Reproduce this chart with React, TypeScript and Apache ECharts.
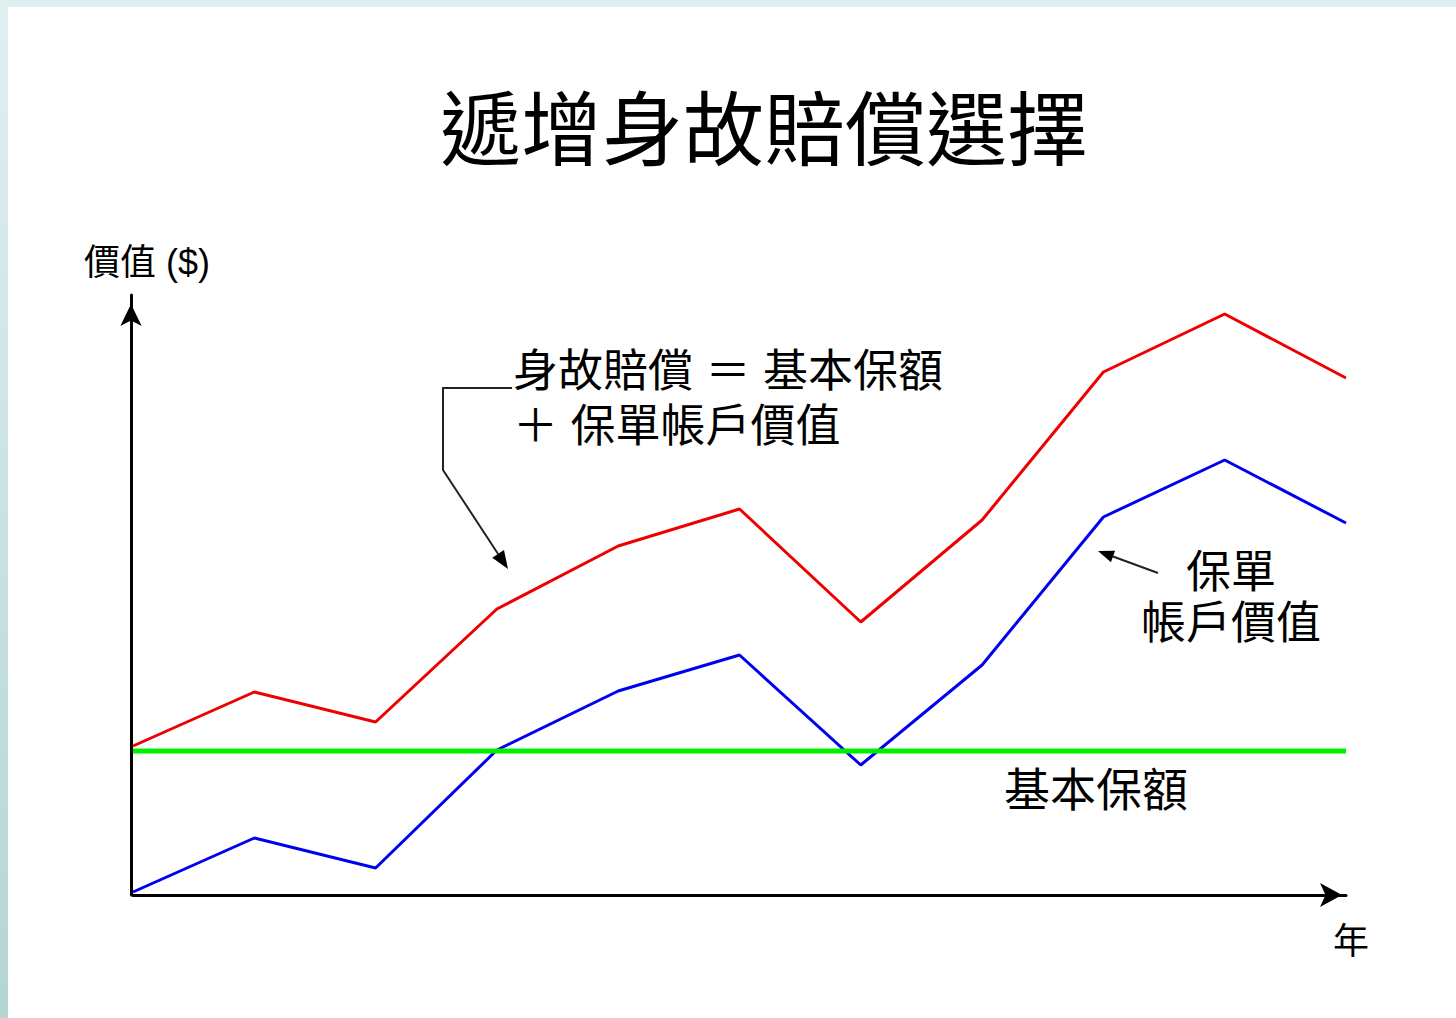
import React, { useEffect, useRef } from "react";
import * as echarts from "echarts";

const years = ["0", "1", "2", "3", "4", "5", "6", "7", "8", "9", "10"];
const deathBenefit = [149, 203, 173, 286, 349, 386, 273, 375, 523, 581, 517];
const accountValue = [3, 57, 27, 145, 204, 240, 130, 230, 378, 435, 372];
const baseAmount = [144, 144, 144, 144, 144, 144, 144, 144, 144, 144, 144];

const titleText = "遞增身故賠償選擇";
const yAxisName = "價值 ($)";
const xAxisName = "年";
const noteDeath = ["身故賠償 ＝ 基本保額", "＋ 保單帳戶價值"];
const noteAccount = ["保單", "帳戶價值"];
const noteBase = "基本保額";

const FONT = '"Noto Sans CJK TC", "Noto Sans CJK SC", sans-serif';
const NOTE_FONT = '"Liberation Sans", "Noto Sans CJK TC", "Noto Sans CJK SC", sans-serif';

function txt(text: string, x: number, y: number, size: number, align: string, family: string = NOTE_FONT) {
  return {
    type: "text",
    x,
    y,
    z: 100,
    style: {
      text,
      fill: "#000",
      font: `normal ${size}px ${family}`,
      textAlign: align,
      align,
      textVerticalAlign: "middle",
      verticalAlign: "middle",
    },
  };
}

export default function App() {
  const ref = useRef<HTMLDivElement>(null);

  useEffect(() => {
    document.body.style.margin = "0";
    if (!ref.current) return;
    const chart = echarts.init(ref.current, null, { renderer: "svg" });

    const tip1 = [508, 569];
    const from1 = [443, 470];
    const d1x = tip1[0] - from1[0];
    const d1y = tip1[1] - from1[1];
    const l1 = Math.hypot(d1x, d1y);
    const u1 = [d1x / l1, d1y / l1];
    const b1 = [tip1[0] - 18 * u1[0], tip1[1] - 18 * u1[1]];
    const p1 = [-u1[1] * 7, u1[0] * 7];

    const tip2 = [1098, 551];
    const from2 = [1158, 573];
    const d2x = tip2[0] - from2[0];
    const d2y = tip2[1] - from2[1];
    const l2 = Math.hypot(d2x, d2y);
    const u2 = [d2x / l2, d2y / l2];
    const b2 = [tip2[0] - 16 * u2[0], tip2[1] - 16 * u2[1]];
    const p2 = [-u2[1] * 6, u2[0] * 6];

    chart.setOption({
      animation: false,
      backgroundColor: "#ffffff",
      title: {
        text: titleText,
        left: 435,
        top: 78,
        textStyle: {
          fontSize: 81,
          fontWeight: "normal",
          color: "#000",
          fontFamily: FONT,
        },
      },
      grid: { left: 133, right: 110, top: 295, bottom: 123 },
      xAxis: {
        type: "category",
        data: years,
        boundaryGap: false,
        axisLabel: { show: false },
        axisTick: { show: false },
        splitLine: { show: false },
        axisLine: {
          show: true,
          lineStyle: { color: "#000", width: 3 },
          symbol: ["none", "arrow"],
          symbolSize: [18, 22],
          symbolOffset: [0, -4],
        },
      },
      yAxis: {
        type: "value",
        min: 0,
        max: 600,
        offset: 2,
        axisLabel: { show: false },
        axisTick: { show: false },
        splitLine: { show: false },
        axisLine: {
          show: true,
          lineStyle: { color: "#000", width: 3 },
          symbol: ["none", "arrow"],
          symbolSize: [16, 22],
          symbolOffset: [0, -9],
        },
      },
      series: [
        {
          name: "保單帳戶價值",
          type: "line",
          data: accountValue,
          symbol: "none",
          lineStyle: { color: "#0000ee", width: 3 },
          z: 2,
        },
        {
          name: "身故賠償",
          type: "line",
          data: deathBenefit,
          symbol: "none",
          lineStyle: { color: "#ee0000", width: 3 },
          z: 3,
        },
        {
          name: "基本保額",
          type: "line",
          data: baseAmount,
          symbol: "none",
          lineStyle: { color: "#00ee00", width: 5 },
          z: 4,
        },
      ],
      graphic: [
        { type: "rect", shape: { x: 0, y: 0, width: 1456, height: 7 }, style: { fill: "#e0f0f0" }, z: 0 },
        {
          type: "rect",
          shape: { x: 0, y: 0, width: 8, height: 1018 },
          style: {
            fill: new echarts.graphic.LinearGradient(0, 0, 0, 1, [
              { offset: 0, color: "#e0f0f0" },
              { offset: 1, color: "#b4d6d0" },
            ]),
          },
          z: 0,
        },
        txt(yAxisName, 84, 262, 36, "left"),
        txt(xAxisName, 1351, 941, 36, "center"),
        txt(noteDeath[0], 513, 371, 45, "left"),
        txt(noteDeath[1], 513, 426, 45, "left"),
        txt(noteAccount[0], 1231, 572, 45, "center"),
        txt(noteAccount[1], 1231, 623, 45, "center"),
        txt(noteBase, 1096, 790, 46, "center"),
        {
          type: "polyline",
          shape: { points: [[512, 388], [443, 388], [443, 470], [b1[0], b1[1]]] },
          style: { stroke: "#222", lineWidth: 2, fill: "none" },
          z: 100,
        },
        {
          type: "polygon",
          shape: {
            points: [
              [tip1[0], tip1[1]],
              [b1[0] + p1[0], b1[1] + p1[1]],
              [b1[0] - p1[0], b1[1] - p1[1]],
            ],
          },
          style: { fill: "#000" },
          z: 100,
        },
        {
          type: "line",
          shape: { x1: from2[0], y1: from2[1], x2: b2[0], y2: b2[1] },
          style: { stroke: "#222", lineWidth: 2 },
          z: 100,
        },
        {
          type: "polygon",
          shape: {
            points: [
              [tip2[0], tip2[1]],
              [b2[0] + p2[0], b2[1] + p2[1]],
              [b2[0] - p2[0], b2[1] - p2[1]],
            ],
          },
          style: { fill: "#000" },
          z: 100,
        },
      ],
    });
    return () => chart.dispose();
  }, []);

  return <div ref={ref} style={{ width: 1456, height: 1018 }} />;
}
